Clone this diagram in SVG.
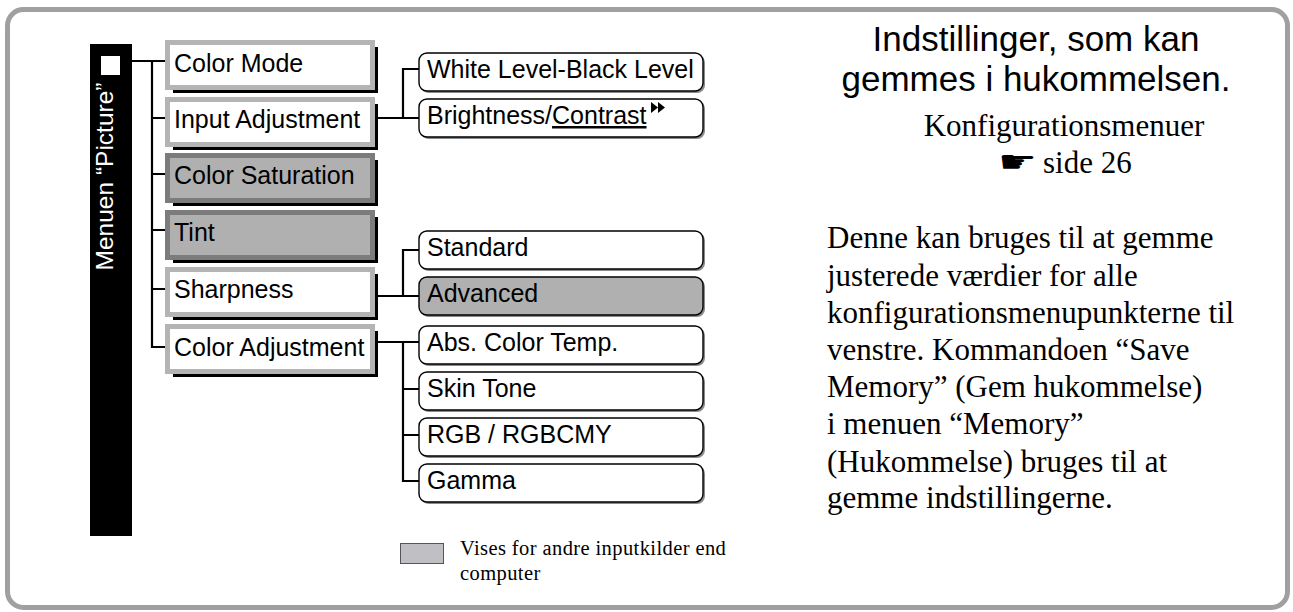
<svg xmlns="http://www.w3.org/2000/svg" width="1293" height="612" viewBox="0 0 1293 612">
<style>
.frame{fill:#fff;stroke:#a0a0a0;stroke-width:5}
.shadow{fill:#000}
.lt{fill:#fff;stroke:#b4b4b4;stroke-width:5}
.dk{fill:#b0b0b0;stroke:#7c7c7c;stroke-width:5}
.lbl{font-family:"Liberation Sans",Arial,sans-serif;font-size:25px;fill:#000}
.sub{fill:#fff;stroke:#000;stroke-width:1.4}
.subg{fill:#b0b0b0;stroke:#000;stroke-width:1.4}
.subsh{fill:#8a8a8a}
.conn{fill:none;stroke:#000;stroke-width:2.2}
.serif{font-family:"Liberation Serif","Times New Roman",serif;fill:#000}
</style>
<rect class="frame" x="7.5" y="9.5" width="1280" height="598" rx="16"/>
<g id="menu-picture">
<rect x="90" y="44" width="42" height="492" fill="#000"/>
<rect x="101" y="56" width="19" height="19" fill="#fff"/>
<text transform="translate(113,176.5) rotate(-90)" text-anchor="middle" font-family="Liberation Sans, Arial, sans-serif" font-size="24.5" fill="#fff">Menuen “Picture”</text>
</g>
<g id="connectors">
<path class="conn" d="M132 61H165M152 61V347H165M152 118H165M152 174H165M152 230H165M152 289H165"/>
<path class="conn" d="M378 118H419M403 118V69H419"/>
<path class="conn" d="M378 296H419M403 296V250H419"/>
<path class="conn" d="M378 342H419M403 342V481H419M403 389H419M403 435H419"/>
</g>
<g id="color-mode"><rect class="shadow" x="173" y="47" width="205" height="46"/><rect class="lt" x="167.5" y="42.5" width="205" height="45"/><text class="lbl" x="174" y="72">Color Mode</text></g>
<g id="input-adjustment"><rect class="shadow" x="173" y="104" width="205" height="46"/><rect class="lt" x="167.5" y="99.5" width="205" height="45"/><text class="lbl" x="174" y="128">Input Adjustment</text></g>
<g id="color-saturation"><rect class="shadow" x="173" y="160" width="205" height="46"/><rect class="dk" x="167.5" y="155.5" width="205" height="45"/><text class="lbl" x="174" y="184">Color Saturation</text></g>
<g id="tint"><rect class="shadow" x="173" y="217" width="205" height="46"/><rect class="dk" x="167.5" y="212.5" width="205" height="45"/><text class="lbl" x="174" y="241">Tint</text></g>
<g id="sharpness"><rect class="shadow" x="173" y="274" width="205" height="46"/><rect class="lt" x="167.5" y="269.5" width="205" height="45"/><text class="lbl" x="174" y="298">Sharpness</text></g>
<g id="color-adjustment"><rect class="shadow" x="173" y="331" width="205" height="46"/><rect class="lt" x="167.5" y="326.5" width="205" height="45"/><text class="lbl" x="174" y="356">Color Adjustment</text></g>
<g id="white-level"><rect class="subsh" x="421" y="55" width="284" height="38" rx="8"/><rect class="sub" x="419" y="53" width="284" height="38" rx="8"/><text class="lbl" x="427" y="78">White Level-Black Level</text></g>
<g id="brightness-contrast"><rect class="subsh" x="421" y="101" width="284" height="38" rx="8"/><rect class="sub" x="419" y="99" width="284" height="38" rx="8"/><text class="lbl" x="427" y="124">Brightness/<tspan text-decoration="underline">Contrast</tspan></text><path d="M651 102L658 107.5L651 113ZM658 102L665 107.5L658 113Z" fill="#000"/></g>
<g id="standard"><rect class="subsh" x="421" y="233" width="284" height="38" rx="8"/><rect class="sub" x="419" y="231" width="284" height="38" rx="8"/><text class="lbl" x="427" y="256">Standard</text></g>
<g id="advanced"><rect class="subsh" x="421" y="279" width="284" height="38" rx="8"/><rect class="subg" x="419" y="277" width="284" height="38" rx="8"/><text class="lbl" x="427" y="302">Advanced</text></g>
<g id="abs-color-temp"><rect class="subsh" x="421" y="328" width="284" height="38" rx="8"/><rect class="sub" x="419" y="326" width="284" height="38" rx="8"/><text class="lbl" x="427" y="351">Abs. Color Temp.</text></g>
<g id="skin-tone"><rect class="subsh" x="421" y="374" width="284" height="38" rx="8"/><rect class="sub" x="419" y="372" width="284" height="38" rx="8"/><text class="lbl" x="427" y="397">Skin Tone</text></g>
<g id="rgb"><rect class="subsh" x="421" y="420" width="284" height="38" rx="8"/><rect class="sub" x="419" y="418" width="284" height="38" rx="8"/><text class="lbl" x="427" y="443">RGB / RGBCMY</text></g>
<g id="gamma"><rect class="subsh" x="421" y="466" width="284" height="38" rx="8"/><rect class="sub" x="419" y="464" width="284" height="38" rx="8"/><text class="lbl" x="427" y="489">Gamma</text></g>
<g id="legend">
<rect x="400.5" y="543.5" width="43" height="20" fill="#c0c0c4" stroke="#555" stroke-width="1"/>
<text class="serif" x="460" y="555" font-size="20.5" letter-spacing="0.4">Vises for andre inputkilder end</text>
<text class="serif" x="460" y="580" font-size="20.5" letter-spacing="0.4">computer</text>
</g>
<g id="notes">
<text x="1036" y="51" text-anchor="middle" font-family="Liberation Sans, Arial, sans-serif" font-size="35">Indstillinger, som kan</text>
<text x="1036" y="91" text-anchor="middle" font-family="Liberation Sans, Arial, sans-serif" font-size="35">gemmes i hukommelsen.</text>
<text class="serif" x="1064" y="136" text-anchor="middle" font-size="31">Konfigurationsmenuer</text>
<text transform="translate(1017.5,172) scale(1.45,1)" text-anchor="middle" font-family="DejaVu Sans, sans-serif" font-size="30">☛</text>
<text class="serif" x="1043" y="173" font-size="31">side 26</text>
<text class="serif" font-size="31"><tspan x="827" y="248">Denne kan bruges til at gemme</tspan><tspan x="827" y="286">justerede værdier for alle</tspan><tspan x="827" y="323">konfigurationsmenupunkterne til</tspan><tspan x="827" y="360">venstre. Kommandoen “Save</tspan><tspan x="827" y="397">Memory” (Gem hukommelse)</tspan><tspan x="827" y="434">i menuen “Memory”</tspan><tspan x="827" y="472">(Hukommelse) bruges til at</tspan><tspan x="827" y="508">gemme indstillingerne.</tspan></text>
</g>
</svg>
